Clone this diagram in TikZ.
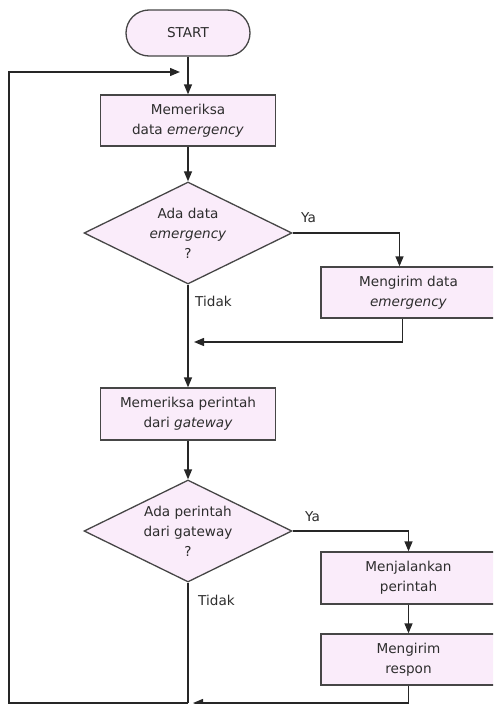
\documentclass[tikz,border=0pt]{standalone}
\usepackage{fontspec}
\setmainfont{DejaVu Sans}
\usetikzlibrary{shapes.geometric,arrows.meta,calc}
\definecolor{boxfill}{RGB}{250,236,250}
\definecolor{edge}{RGB}{70,70,70}
\definecolor{txt}{RGB}{45,45,45}
\begin{document}
\begin{tikzpicture}[x=1pt,y=-1pt,
  every node/.style={font=\fontsize{13.6}{20}\selectfont, text=txt},
  proc/.style={draw=edge, fill=boxfill, line width=1.3pt, rectangle, minimum width=175pt, minimum height=51pt, inner sep=0pt, align=center},
  term/.style={draw=edge, fill=boxfill, line width=1.3pt, rectangle, rounded corners=23pt, minimum width=124pt, minimum height=46pt, inner sep=0pt, align=center},
  dec/.style={draw=edge, fill=boxfill, line width=1.3pt, diamond, aspect=2.04, minimum width=208pt, minimum height=102pt, inner sep=0pt, align=center},
  lbl/.style={anchor=west, inner sep=0pt},
  arr/.style={draw=black!85, line width=1.3pt, -{Triangle[length=10pt,width=8pt]}},
  ln/.style={draw=black!85, line width=1.3pt}]
\useasboundingbox (0,0) rectangle (493,704);
\clip (0,0) rectangle (493,704);

\node[term] (start) at (188,33) {START};
\node[proc] (box1) at (188,120.5) {Memeriksa\\data \textit{emergency}};
\node[dec] (d1) at (188,233) {Ada data\\\textit{emergency}\\?};
\node[proc] (box2) at (408.5,292.5) {Mengirim data\\\textit{emergency}};
\node[proc, minimum height=52pt] (box3) at (188,414) {Memeriksa perintah\\dari \textit{gateway}};
\node[dec] (d2) at (188,531) {Ada perintah\\dari gateway\\?};
\node[proc, minimum height=52pt] (box4) at (408.5,578) {Menjalankan\\perintah};
\node[proc] (box5) at (408.5,659.5) {Mengirim\\respon};

\node[lbl] (ya1) at (301,218) {Ya};
\node[lbl] (no1) at (195,301) {Tidak};
\node[lbl] (ya2) at (305,517) {Ya};
\node[lbl] (no2) at (198,600) {Tidak};

\coordinate (top) at (188,72);
\coordinate (loopL) at (9,72);
\coordinate (loopB) at (9,703);
\coordinate (bot) at (188,703);
\coordinate (mid) at (188,342);

\draw[arr] (start) -- (box1);
\draw[arr] (box1) -- (d1);
\draw[arr] (d1.east) -| ([xshift=-9pt]box2.north);
\draw[arr, shorten >=6pt] ([xshift=-6pt]box2.south) |- (mid);
\draw[arr] (d1) -- (box3);
\draw[arr] (box3) -- (d2);
\draw[arr] (d2.east) -| (box4);
\draw[arr] (box4) -- (box5);
\draw[arr, shorten >=5pt] (box5.south) |- (bot);
\draw[ln] (d2.south) -- (bot);
\draw[arr, shorten >=8pt] (bot) -- (loopB) -- (loopL) -- (top);
\end{tikzpicture}
\end{document}
